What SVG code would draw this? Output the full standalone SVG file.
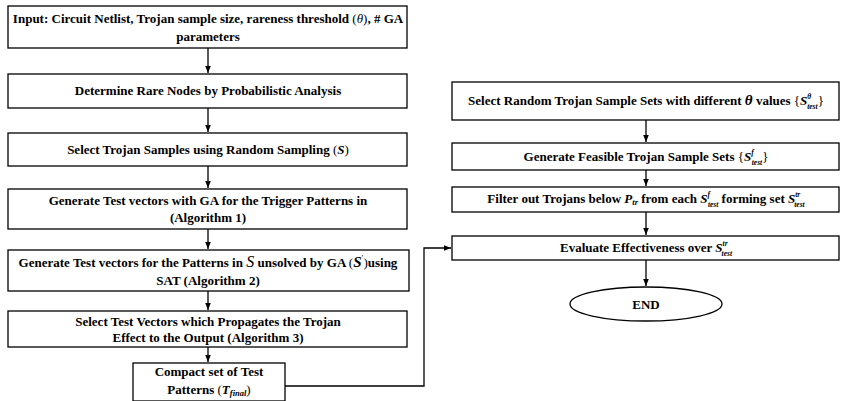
<svg xmlns="http://www.w3.org/2000/svg" width="849" height="401" viewBox="0 0 849 401">
<defs>
<marker id="ah" viewBox="0 0 10 10" refX="10" refY="5" markerWidth="7" markerHeight="7" markerUnits="userSpaceOnUse" orient="auto">
<path d="M0,1 L10,5 L0,9 z" fill="#000"/>
</marker>
<style>
rect,ellipse{fill:#fff;stroke:#000;stroke-width:1.3}
text{font-family:"Liberation Serif","Times New Roman",serif;font-weight:bold;font-size:13px;fill:#000;text-anchor:middle}
.c path{fill:none;stroke:#000;stroke-width:1.3;marker-end:url(#ah)}
.m{font-style:italic}
.n{font-weight:normal}
.s{font-size:8.5px}
.t{font-size:7.5px}
</style>
</defs>
<rect width="849" height="401" fill="#fff" style="stroke:none"/>
<g class="c" id="connectors">
<path d="M208,48 V73"/>
<path d="M208,108 V132"/>
<path d="M208,166 V188"/>
<path d="M208,229 V249"/>
<path d="M208,291 V310"/>
<path d="M208,347 V362"/>
<path d="M285,386 H424 V248 H451"/>
<path d="M646,120 V142"/>
<path d="M646,170 V186"/>
<path d="M646,212 V235"/>
<path d="M646,260 V286"/>
</g>
<g id="n1"><rect x="8" y="6" width="399" height="42"/>
<text x="208" y="23">Input: Circuit Netlist, Trojan sample size, rareness threshold <tspan class="n">(</tspan><tspan class="m n">θ</tspan><tspan class="n">)</tspan>, # GA</text>
<text x="208" y="41">parameters</text></g>
<g id="n2"><rect x="8" y="74" width="399" height="34"/>
<text x="208" y="95">Determine Rare Nodes by Probabilistic Analysis</text></g>
<g id="n3"><rect x="8" y="133" width="399" height="33"/>
<text x="208" y="154">Select Trojan Samples using Random Sampling <tspan class="n">(</tspan><tspan class="m">S</tspan><tspan class="n">)</tspan></text></g>
<g id="n4"><rect x="8" y="189" width="399" height="40"/>
<text x="208" y="205">Generate Test vectors with GA for the Trigger Patterns in</text>
<text x="208" y="222">(Algorithm 1)</text></g>
<g id="n5"><rect x="8" y="250" width="401" height="41"/>
<text x="208" y="267">Generate Test vectors  for the Patterns in <tspan class="m n" font-size="16">S</tspan> unsolved by GA <tspan class="n">(</tspan><tspan class="m" font-size="15">S</tspan><tspan class="n s" dy="-6">′</tspan><tspan class="n" dy="6">)</tspan>using</text>
<text x="208" y="285">SAT (Algorithm 2)</text></g>
<g id="n6"><rect x="8" y="311" width="399" height="36"/>
<text x="208" y="326">Select Test Vectors which Propagates the Trojan</text>
<text x="208" y="342">Effect to the Output (Algorithm 3)</text></g>
<g id="n7"><rect x="133" y="363" width="152" height="38"/>
<text x="209" y="376">Compact set of Test</text>
<text x="209" y="394">Patterns <tspan class="n">(</tspan><tspan class="m">T</tspan><tspan class="m s" dy="2">final</tspan><tspan class="n" dy="-2">)</tspan></text></g>
<g id="r1"><rect x="452" y="82" width="387" height="38"/>
<text x="646" y="105">Select Random Trojan Sample Sets with different <tspan class="m" font-size="15">θ</tspan> values <tspan class="n">{</tspan><tspan class="m">S</tspan><tspan class="m t" dy="-6">θ</tspan><tspan class="m t" dx="-4" dy="10">test</tspan><tspan class="n" dy="-4">}</tspan></text></g>
<g id="r2"><rect x="452" y="143" width="387" height="27"/>
<text x="646" y="161">Generate Feasible Trojan Sample Sets <tspan class="n">{</tspan><tspan class="m">S</tspan><tspan class="m t" dy="-6">f</tspan><tspan class="m t" dx="-2" dy="10">test</tspan><tspan class="n" dy="-4">}</tspan></text></g>
<g id="r3"><rect x="452" y="187" width="387" height="25"/>
<text x="646" y="203">Filter out Trojans below <tspan class="m">P</tspan><tspan class="m s" dy="2">tr</tspan><tspan dy="-2"> from each </tspan><tspan class="m">S</tspan><tspan class="m t" dy="-6">f</tspan><tspan class="m t" dx="-2" dy="10">test</tspan><tspan dy="-4">  forming set </tspan><tspan class="m">S</tspan><tspan class="m t" dy="-6">tr</tspan><tspan class="m t" dx="-6" dy="10">test</tspan></text></g>
<g id="r4"><rect x="452" y="236" width="387" height="24"/>
<text x="646" y="252">Evaluate Effectiveness over <tspan class="m">S</tspan><tspan class="m t" dy="-6">tr</tspan><tspan class="m t" dx="-6" dy="10">test</tspan></text></g>
<g id="end"><ellipse cx="646" cy="304" rx="76" ry="17"/>
<text x="646" y="309" font-size="14">END</text></g>
</svg>
